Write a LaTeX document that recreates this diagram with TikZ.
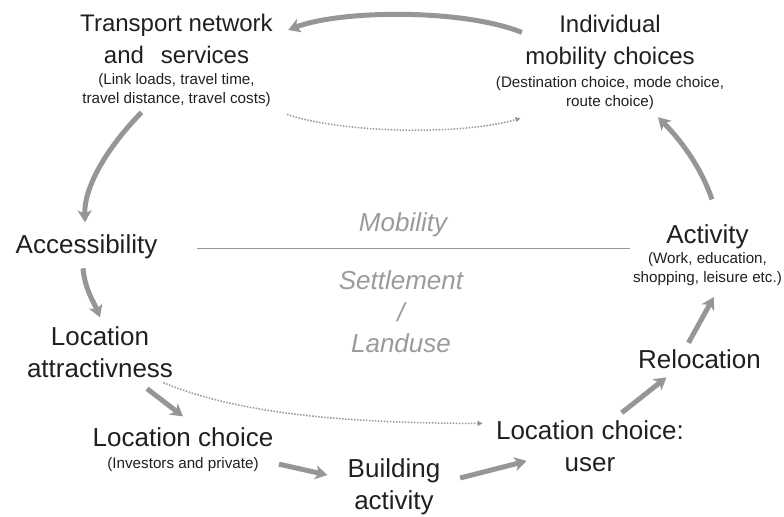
\documentclass[tikz,border=0pt]{standalone}
\usepackage{fontspec}
\setmainfont{Liberation Sans}
\usepackage{tikz}
\usetikzlibrary{arrows.meta,positioning}
\usepackage{xcolor}
\definecolor{linkgray}{RGB}{150,150,150}
\definecolor{labelgray}{RGB}{155,155,158}
\definecolor{textdark}{RGB}{35,31,32}

\begin{document}
\begin{tikzpicture}[
    x=0.5pt, y=-0.5pt,
    box/.style={align=center, inner sep=0pt, text=textdark, font=\fontsize{13}{16}\selectfont},
    topbox/.style={box, font=\fontsize{12}{16}\selectfont},
    note/.style={align=center, inner sep=0pt, text=textdark, font=\fontsize{7.6}{9.5}\selectfont},
    theme/.style={align=center, inner sep=0pt, text=labelgray, font=\fontsize{13}{15.75}\selectfont\itshape},
    flow/.style={-{Stealth[length=6pt, width=7pt, inset=1.6pt]}, line width=2.5pt, draw=linkgray},
    hint/.style={-{Triangle[length=2.5pt, width=2.5pt]}, line width=0.75pt, draw=linkgray, dash pattern=on 0.75pt off 0.75pt},
    divider/.style={line width=0.5pt, draw=linkgray}
]
    \useasboundingbox (0,0) rectangle (784,516);

    % Mobility side
    \node[topbox] (transport) at (176.5,38.5) {Transport network\\and\hspace{8.5pt}services};
    \node[note, below=4.85pt of transport] (transportnote) {(Link loads, travel time,\\travel distance, travel costs)};
    \node[topbox] (mobility) at (610,42.4) {Individual\\mobility choices};
    \node[note, below=3pt of mobility] (mobilitynote) {(Destination choice, mode choice,\\route choice)};
    \node[box, anchor=base] (access) at (86.5,253) {Accessibility};
    \node[box, anchor=base] (activity) at (707.5,243) {Activity};
    \node[note, below=1.5pt of activity] (activitynote) {(Work, education,\\shopping, leisure etc.)};

    % Settlement side
    \node[box] (attract) at (100,351.7) {Location\\attractivness};
    \node[box, anchor=base] (locchoice) at (183,446) {Location choice};
    \node[note, below=5pt of locchoice] (locchoicenote) {(Investors and private)};
    \node[box] (building) at (394,486.4) {Building\\activity};
    \node[box] (user) at (590,445.7) {Location choice:\\user};
    \node[box, anchor=base] (relocation) at (699.5,368) {Relocation};

    % Divider and themes
    \coordinate (divleft) at (197,248);
    \coordinate (divright) at (630,248);
    \draw[divider] (divleft) -- (divright);
    \node[theme, anchor=base] (mobtheme) at (403,231) {Mobility};
    \node[theme] (landtheme) at (401,312.2) {Settlement\\/\\Landuse};

    % Main cycle
    \draw[flow] ([shift={(-3,-10)}]mobility.west) .. controls +(-60,-24) and +(52,-20) .. ([shift={(15,-8.5)}]transport.east);
    \draw[flow] ([shift={(-35,5)}]transportnote.south) .. controls +(-38,39) and +(-1,-33) .. ([shift={(-1.5,-11.4)}]access.north);
    \draw[flow] ([shift={(-3.5,9.5)}]access.south) .. controls +(2,22) and +(-5,-13) .. ([shift={(0,-8.4)}]attract.north);
    \draw[flow] ([shift={(47,11)}]attract.south) -- ([shift={(0,-10.4)}]locchoice.north);
    \draw[flow] ([shift={(20,0)}]locchoicenote.east) -- ([shift={(-20,-11.4)}]building.west);
    \draw[flow] ([shift={(19.5,-8.4)}]building.east) -- ([shift={(31,15.3)}]user.west);
    \draw[flow] ([shift={(31.7,-7)}]user.north) -- ([shift={(-33,8.7)}]relocation.south);
    \draw[flow] ([shift={(-11,-6)}]relocation.north) -- ([shift={(6.3,11.3)}]activitynote.south);
    \draw[flow] ([shift={(4.5,-24.4)}]activity.north) .. controls +(-12,-35) and +(20,20) .. ([shift={(48,7.3)}]mobilitynote.south);

    % Indirect links
    \draw[hint] ([shift={(16,7)}]transportnote.south east) .. controls +(52,18) and +(-63,18) .. ([shift={(25,8.3)}]mobilitynote.south west);
    \draw[hint] ([shift={(-10,5)}]attract.south east) .. controls +(67,28) and +(-153,0) .. ([shift={(-13,3.6)}]user.north west);
\end{tikzpicture}
\end{document}
